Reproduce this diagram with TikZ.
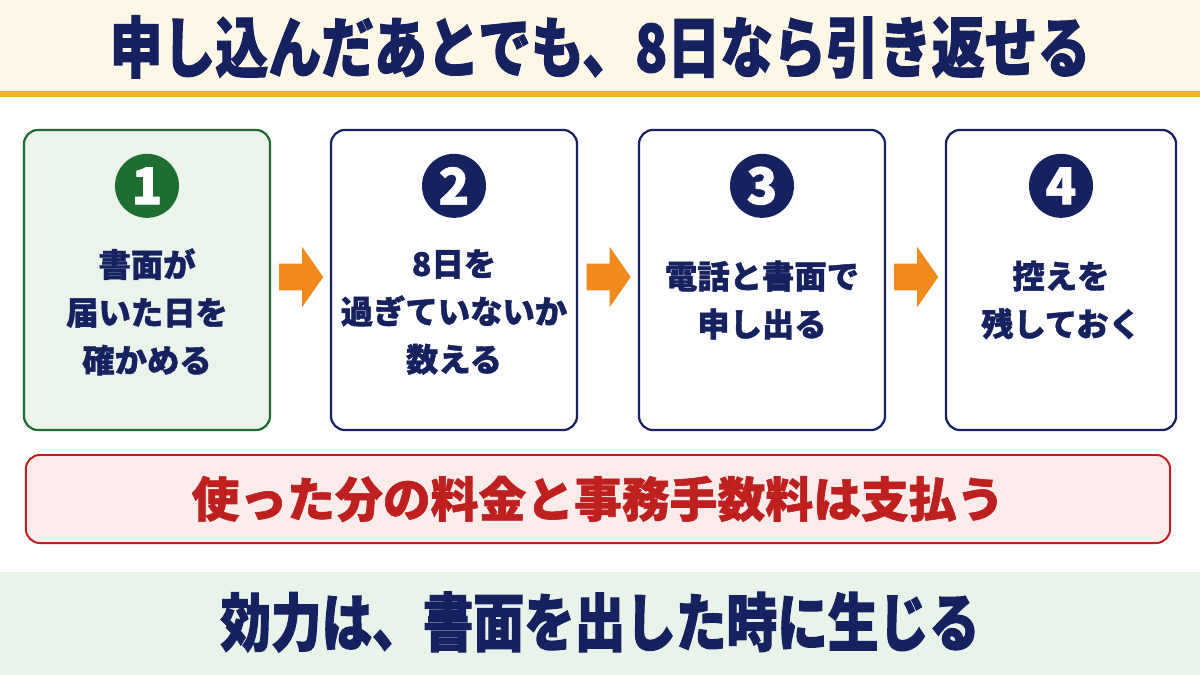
\documentclass[tikz,border=0pt]{standalone}
\usepackage{fontspec}
\setmainfont{Noto Sans CJK JP}[BoldFeatures={FakeBold=1.2}]
\newfontfamily\condfont{Noto Sans CJK JP}[FakeStretch=0.8, BoldFeatures={FakeBold=1.6}]
\usepackage{tikz}
\definecolor{navyink}{RGB}{22,34,96}
\definecolor{creamband}{RGB}{253,247,230}
\definecolor{goldline}{RGB}{242,183,10}
\definecolor{stepgreen}{RGB}{30,110,50}
\definecolor{palegreen}{RGB}{234,244,234}
\definecolor{arroworange}{RGB}{240,138,28}
\definecolor{warnred}{RGB}{190,32,32}
\definecolor{palepink}{RGB}{252,235,235}
\definecolor{footgreen}{RGB}{232,243,234}
\usetikzlibrary{shapes,arrows,positioning,calc}

\begin{document}
\begin{tikzpicture}[
    x=0.025cm, y=-0.025cm,
    stepbox/.style={rectangle, rounded corners=10pt, minimum width=6.15cm, minimum height=7.5cm, draw=navyink, line width=1.6pt, fill=white},
    numdot/.style={circle, minimum size=1.6cm, inner sep=0pt, fill=navyink, text=white, font=\bfseries\fontsize{36}{36}\selectfont},
    steptext/.style={align=center, text=navyink, font=\bfseries\fontsize{23}{34}\selectfont},
    flowarrow/.style={single arrow, fill=arroworange, minimum height=1.1cm, inner xsep=0pt, inner ysep=0.33cm, single arrow head extend=0.42cm, single arrow tip angle=110, shape border rotate=0}
]
\useasboundingbox (0,0) rectangle (1200,675);
\fill[white] (0,0) rectangle (1200,675);

% header band
\fill[creamband] (0,0) rectangle (1200,92);
\fill[goldline] (0,91) rectangle (1200,97);
\node[text=navyink, font=\condfont\bfseries\fontsize{47}{47}\selectfont] (title) at (600,47) {申し込んだあとでも、8日なら引き返せる};

% steps
\node[stepbox, draw=stepgreen, fill=palegreen] (s1) at (147,280) {};
\node[stepbox] (s2) at (454,280) {};
\node[stepbox] (s3) at (762,280) {};
\node[stepbox, minimum width=5.75cm] (s4) at (1061,280) {};

\node[numdot, fill=stepgreen] (n1) at ($(s1.north)+(0,57)$) {1};
\node[numdot] (n2) at ($(s2.north)+(0,57)$) {2};
\node[numdot] (n3) at ($(s3.north)+(0,57)$) {3};
\node[numdot] (n4) at ($(s4.north)+(0,57)$) {4};

\node[steptext] (t1) at ($(s1.center)+(0,32)$) {書面が\\届いた日を\\確かめる};
\node[steptext] (t2) at ($(s2.center)+(0,32)$) {8日を\\過ぎていないか\\数える};
\node[steptext] (t3) at ($(s3.center)+(0,20)$) {電話と書面で\\申し出る};
\node[steptext] (t4) at ($(s4.center)+(0,20)$) {控えを\\残しておく};

\node[flowarrow] (a12) at ($(s1.east)!0.5!(s2.west)+(-4,-3)$) {};
\node[flowarrow] (a23) at ($(s2.east)!0.5!(s3.west)+(-4,-3)$) {};
\node[flowarrow] (a34) at ($(s3.east)!0.5!(s4.west)+(-4,-3)$) {};

% payment note
\node[rectangle, rounded corners=10pt, draw=warnred, line width=1.4pt, fill=palepink, minimum width=28.6cm, minimum height=2.2cm, text=warnred, font=\bfseries\fontsize{34}{34}\selectfont] (pay) at (598,499) {使った分の料金と事務手数料は支払う};

% footer band
\fill[footgreen] (0,572) rectangle (1200,675);
\node[text=navyink, font=\condfont\bfseries\fontsize{45}{45}\selectfont] (foot) at (600,622) {効力は、書面を出した時に生じる};

\end{tikzpicture}
\end{document}
